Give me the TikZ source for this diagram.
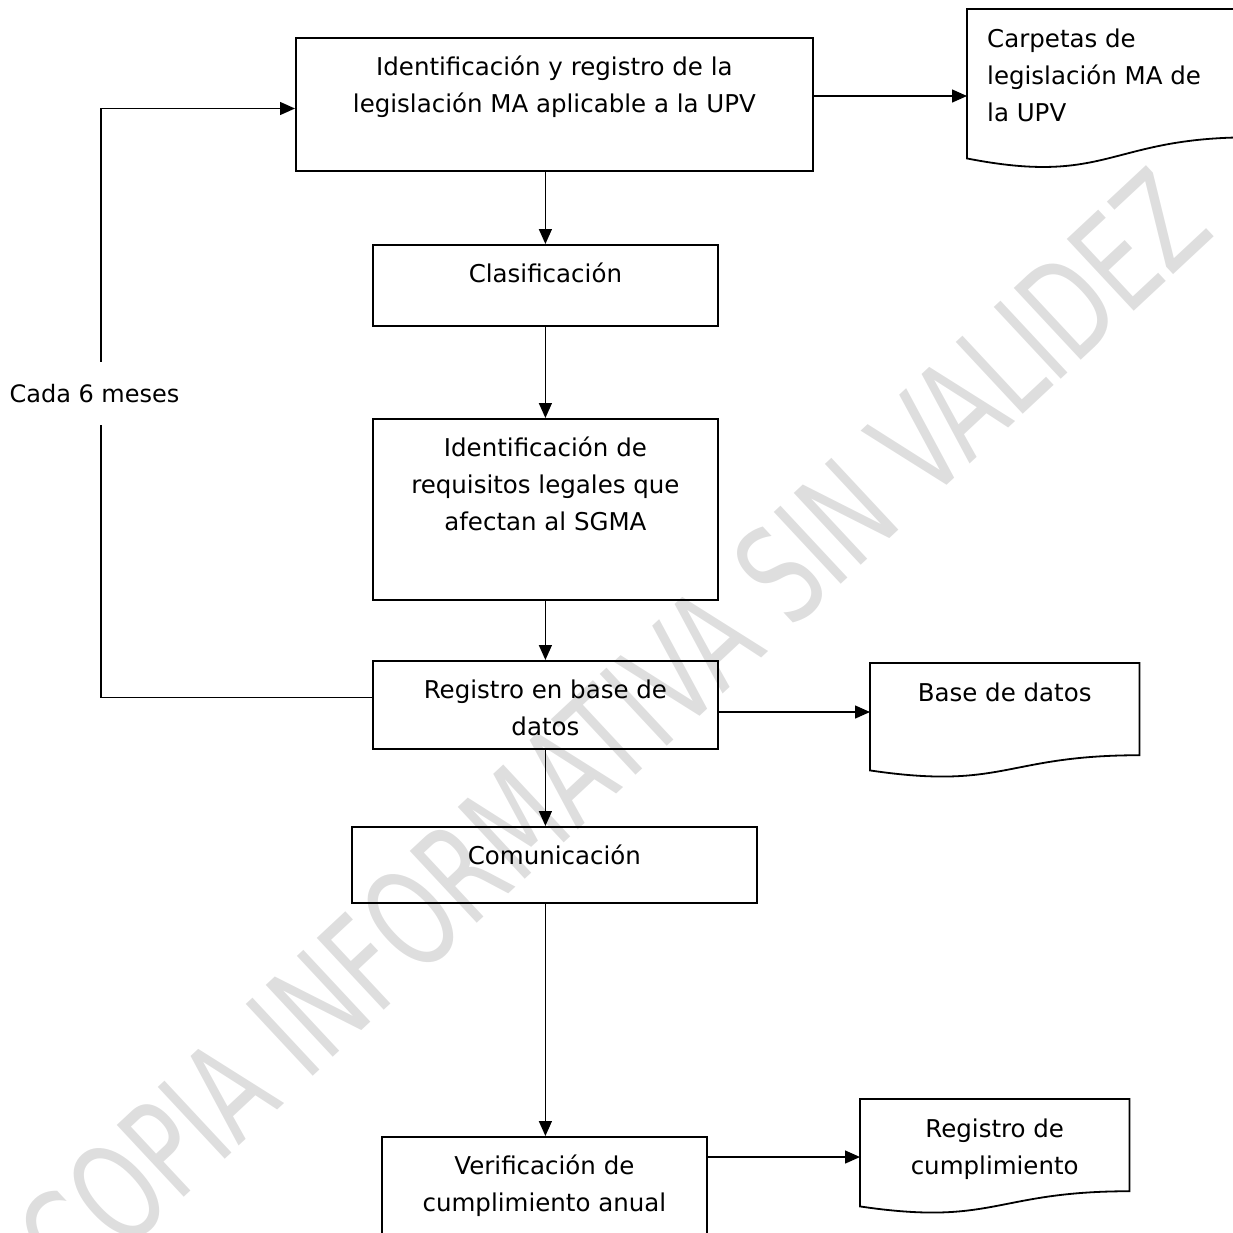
\documentclass[tikz,border=0pt]{standalone}
\usepackage{fontspec}
\setmainfont{DejaVu Sans}
\usetikzlibrary{arrows.meta,calc}
\newcommand\mydocshape[3]{% name, width, height
  \draw[docline] (#1.north west) -- (#1.north east)
    -- ($(#1.north east)+(0,0.802*#3)$)
    .. controls ($(#1.north west)+(0.5*#2,0.802*#3)$) and ($(#1.north west)+(0.5*#2,1.1075*#3)$)
    .. ($(#1.north west)+(0,0.934*#3)$) -- cycle;}
\begin{document}
\begin{tikzpicture}[x=1pt,y=-1pt,
  box/.style={draw=black,line width=1.8pt,inner sep=0pt,anchor=north west},
  docnode/.style={inner sep=0pt,anchor=north west},
  docline/.style={draw=black,line width=1.8pt},
  txt/.style={anchor=north,inner sep=0pt,align=center,font=\fontsize{24.5}{37}\selectfont},
  ltxt/.style={anchor=north west,inner sep=0pt,align=left,font=\fontsize{24.5}{37}\selectfont},
  conn/.style={line width=1.4pt},
  arr/.style={conn,-{Triangle[length=15pt,width=13pt]}},
  wmark/.style={rotate=43,text=black!13,inner sep=0pt}
]
\path[use as bounding box] (0,0) rectangle (1233,1232);

% watermark
\node[wmark] (wm) at (613,730) {\resizebox{1560pt}{100pt}{COPIA INFORMATIVA SIN VALIDEZ}};

% process boxes
\node[box,minimum width=517pt,minimum height=133pt] (b1) at (295,37) {};
\node[box,minimum width=345pt,minimum height=81pt] (b2) at (372,244) {};
\node[box,minimum width=345pt,minimum height=181pt] (b3) at (372,418) {};
\node[box,minimum width=345pt,minimum height=88pt] (b4) at (372,660) {};
\node[box,minimum width=405pt,minimum height=76pt] (b5) at (351,826) {};
\node[box,minimum width=325pt,minimum height=130pt] (b6) at (381,1136) {};

\node[txt] (t1) at ($(b1.north)+(0,12)$) {\strut Identificación y registro de la\\legislación MA aplicable a la UPV};
\node[txt] (t2) at ($(b2.north)+(0,12)$) {\strut Clasificación};
\node[txt] (t3) at ($(b3.north)+(0,12)$) {\strut Identificación de\\requisitos legales que\\afectan al SGMA};
\node[txt] (t4) at ($(b4.north)+(0,12)$) {\strut Registro en base de\\datos};
\node[txt] (t5) at ($(b5.north)+(0,12)$) {\strut Comunicación};
\node[txt] (t6) at ($(b6.north)+(0,12)$) {\strut Verificación de\\cumplimiento anual};

% documents
\node[docnode,minimum width=283pt,minimum height=160pt] (d1) at (967,9) {};
\mydocshape{d1}{283}{160}
\node[ltxt] (s1) at (987,21) {\strut Carpetas de\\legislación MA de\\la UPV};

\node[docnode,minimum width=269pt,minimum height=115pt] (d2) at (870,663) {};
\mydocshape{d2}{269}{115}
\node[txt] (s2) at ($(d2.north)+(0,12)$) {\strut Base de datos};

\node[docnode,minimum width=269pt,minimum height=115pt] (d3) at (860,1099) {};
\mydocshape{d3}{269}{115}
\node[txt] (s3) at ($(d3.north)+(0,12)$) {\strut Registro de\\cumplimiento};

% label
\node[inner sep=0pt,minimum height=63pt,font=\fontsize{24}{37}\selectfont] (lbl) at (94.5,393.5) {Cada 6 meses};

% connectors
\draw[arr] (b1.south -| b2.north) -- (b2.north);
\draw[arr] (b2.south) -- (b3.north);
\draw[arr] (b3.south) -- (b4.north);
\draw[arr] (b4.south) -- (b5.north -| b4.south);
\draw[arr] (b5.south -| b4.south) -- (b6.north -| b4.south);

\coordinate (h1) at (0,96);
\coordinate (h2) at (0,712);
\coordinate (h3) at (0,1157);
\draw[arr] (b1.east |- h1) -- (d1.west |- h1);
\draw[arr] (b4.east |- h2) -- (d2.west |- h2);
\draw[arr] (b6.east |- h3) -- (d3.west |- h3);

\coordinate (fbB) at (101,697.5);
\coordinate (fbT) at (101,108.5);
\draw[conn] (b4.west |- fbB) -- (fbB) -- (fbB |- lbl.south);
\draw[arr] (fbT |- lbl.north) -- (fbT) -- (b1.west |- fbT);
\end{tikzpicture}
\end{document}
